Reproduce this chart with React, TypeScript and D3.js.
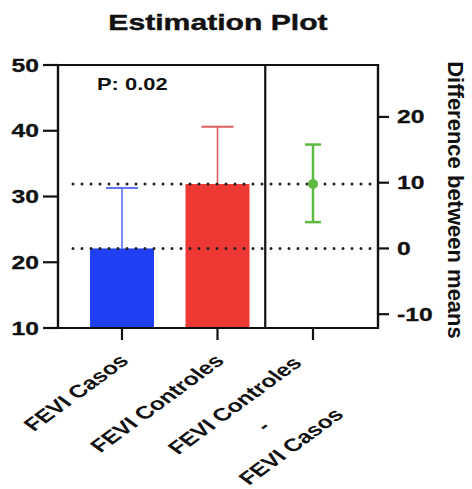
import React from 'react';
import * as d3 from 'd3';

// values
const groups = ['FEVI Casos', 'FEVI Controles'];
const diffLabel = ['FEVI Controles', '-', 'FEVI Casos'];
const means = [22.1, 31.9];
const errTops = [31.3, 40.6];
const diffMean = 9.8;
const diffCI = [4.0, 15.8];
const leftTicks = [10, 20, 30, 40, 50];
const rightTicks = [-10, 0, 10, 20];

const barColors = ['#1f3ff2', '#ee3833'];
const errColors = ['#5d70f0', '#dd5f5f'];
const green = '#5cba45';

const W = 472;
const H = 489;
const SX = 1.37; // the picture is stretched sideways
const font = '"Liberation Sans", Arial, sans-serif';

const App = () => {
  const left = 58, right = 378, top = 65, bottom = 328;

  const x = d3.scalePoint<string>()
    .domain([...groups, 'diff'])
    .range([122, 313]);

  const y = d3.scaleLinear().domain([10, 50]).range([bottom, top]);
  // right axis: difference, zero sits on the first mean
  const yR = d3.scaleLinear()
    .domain([10 - means[0], 50 - means[0]])
    .range([bottom, top]);

  const barW = 64;
  const divider = ((x(groups[1]) as number) + (x('diff') as number)) / 2;
  const gx = x('diff') as number;

  return (
    <svg width={W} height={H} style={{ position: 'absolute', left: 0, top: 0, background: '#fff' }}>
      {/* title */}
      <text transform={`translate(218,30) scale(${SX},1)`} textAnchor="middle"
        fontFamily={font} fontWeight="bold" fontSize={22} fill="#111"
        stroke="#111" strokeWidth={0.4}>Estimation Plot</text>

      {/* bars */}
      {groups.map((g, i) => (
        <g key={g}>
          <line x1={x(g)} x2={x(g)} y1={y(means[i])} y2={y(errTops[i])}
            stroke={errColors[i]} strokeWidth={1.6} />
          <line x1={(x(g) as number) - 16} x2={(x(g) as number) + 16}
            y1={y(errTops[i])} y2={y(errTops[i])} stroke={errColors[i]} strokeWidth={2} />
          <rect x={(x(g) as number) - barW / 2} width={barW} y={y(means[i])}
            height={bottom - y(means[i])} fill={barColors[i]} />
        </g>
      ))}

      {/* dotted mean lines */}
      {means.map((m, i) => (
        <line key={i} x1={73} x2={right} y1={y(m)} y2={y(m)}
          stroke="#222" strokeWidth={3} strokeDasharray="0 9" strokeLinecap="round" />
      ))}

      {/* difference with CI */}
      <line x1={gx} x2={gx} y1={yR(diffCI[0])} y2={yR(diffCI[1])} stroke={green} strokeWidth={2.5} />
      {diffCI.map((v, i) => (
        <line key={i} x1={gx - 8} x2={gx + 8} y1={yR(v)} y2={yR(v)} stroke={green} strokeWidth={2.5} />
      ))}
      <circle cx={gx} cy={yR(diffMean)} r={5} fill={green} />

      {/* frame */}
      <line x1={left} x2={right} y1={top} y2={top} stroke="#111" strokeWidth={2.2} />
      <line x1={left} x2={right} y1={bottom} y2={bottom} stroke="#111" strokeWidth={2.2} />
      <line x1={left} x2={left} y1={top - 1} y2={bottom + 1} stroke="#111" strokeWidth={2.4} />
      <line x1={right} x2={right} y1={top - 1} y2={bottom + 1} stroke="#111" strokeWidth={2.4} />
      <line x1={divider} x2={divider} y1={top} y2={bottom} stroke="#111" strokeWidth={2.2} />

      {/* left axis */}
      {leftTicks.map(t => (
        <g key={t}>
          <line x1={left - 15} x2={left} y1={y(t)} y2={y(t)} stroke="#111" strokeWidth={2.2} />
          <text transform={`translate(39,${y(t) + 6.5}) scale(${SX},1)`} textAnchor="end"
            fontFamily={font} fontWeight="bold" fontSize={18} fill="#111"
            stroke="#111" strokeWidth={0.3}>{t}</text>
        </g>
      ))}

      {/* right axis */}
      {rightTicks.map(t => (
        <g key={t}>
          <line x1={right} x2={right + 11} y1={yR(t)} y2={yR(t)} stroke="#111" strokeWidth={2.2} />
          <text transform={`translate(397,${yR(t) + 6.5}) scale(${SX},1)`} textAnchor="start"
            fontFamily={font} fontWeight="bold" fontSize={18} fill="#111"
            stroke="#111" strokeWidth={0.3}>{t}</text>
        </g>
      ))}
      <text transform="translate(448,200) rotate(90)" textAnchor="middle"
        fontFamily={font} fontWeight="bold" fontSize={22} fill="#111">Difference between means</text>

      {/* P value */}
      <text transform={`translate(97,90) scale(${SX},1)`} fontFamily={font} fontWeight="bold"
        fontSize={16} fill="#111">P: 0.02</text>

      {/* x ticks and labels */}
      {[...groups, 'diff'].map(c => (
        <line key={c} x1={x(c)} x2={x(c)} y1={bottom} y2={bottom + 12} stroke="#111" strokeWidth={2.2} />
      ))}
      {groups.map(g => (
        <text key={g} transform={`translate(${(x(g) as number) + 8},362) scale(${SX},1) rotate(-45)`}
          textAnchor="end" fontFamily={font} fontWeight="bold" fontSize={18} fill="#111">{g}</text>
      ))}
      <g transform={`translate(${gx - 50},426) scale(${SX},1) rotate(-45)`}>
        {diffLabel.map((s, i) => (
          <text key={i} x={0} y={(i - 1) * 29 + 6} textAnchor="middle"
            fontFamily={font} fontWeight="bold" fontSize={18} fill="#111">{s}</text>
        ))}
      </g>
    </svg>
  );
};

export default App;
